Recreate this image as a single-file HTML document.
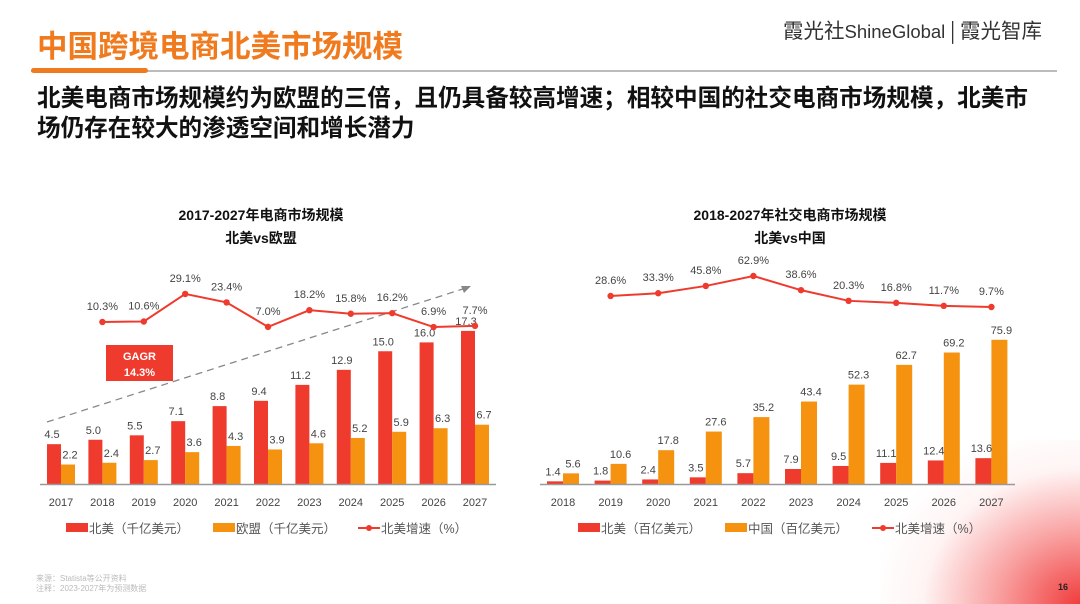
<!DOCTYPE html>
<html><head><meta charset="utf-8">
<style>
html,body{margin:0;width:1080px;height:604px;overflow:hidden}
body{background:#fff;font-family:"Liberation Sans","Noto Sans CJK SC",sans-serif;position:relative}
.abs{position:absolute}
</style></head>
<body>
<div class="abs" style="left:880px;top:440px;width:200px;height:164px;background:radial-gradient(ellipse 210px 180px at 100% 100%,rgba(240,50,50,0.95) 0%,rgba(245,100,100,0.6) 40%,rgba(255,200,200,0.2) 75%,rgba(255,255,255,0) 100%)"></div>
<div class="abs" style="left:37px;top:22px;font-size:30.5px;font-weight:bold;color:#f07a1e;font-family:'Noto Sans CJK SC',sans-serif;line-height:44px;white-space:nowrap">中国跨境电商北美市场规模</div>
<div class="abs" style="left:783px;top:15px;font-size:20.5px;color:#333;font-family:'Noto Sans CJK SC',sans-serif;line-height:28px;white-space:nowrap">霞光社<span style="font-family:'Liberation Sans';font-size:18.5px">ShineGlobal</span> | 霞光智库</div>
<div class="abs" style="left:31px;top:70px;width:1026px;height:2px;background:#bbb"></div>
<div class="abs" style="left:31px;top:68px;width:117px;height:5px;border-radius:3px;background:#f07a1e"></div>
<div class="abs" style="left:37px;top:81px;width:1030px;font-size:23.6px;font-weight:bold;color:#111;font-family:'Noto Sans CJK SC',sans-serif;line-height:30px;white-space:nowrap">北美电商市场规模约为欧盟的三倍，且仍具备较高增速；相较中国的社交电商市场规模，北美市<br>场仍存在较大的渗透空间和增长潜力</div>
<div class="abs" style="left:36px;top:574px;font-size:8px;color:#bbb;line-height:10px">来源：Statista等公开资料<br>注释：2023-2027年为预测数据</div>
<div class="abs" style="left:1058px;top:582px;font-size:9px;font-weight:bold;color:#222">16</div>

<svg class="abs" style="left:0;top:0" width="1080" height="604">
<g id="left"></g>
<g id="right"></g>
</svg>
<script>
const RED="#ee3b2e", ORANGE="#f5920f";
const leftYears=["2017","2018","2019","2020","2021","2022","2023","2024","2025","2026","2027"];
const leftNA=[4.5,5.0,5.5,7.1,8.8,9.4,11.2,12.9,15.0,16.0,17.3];
const leftEU=[2.2,2.4,2.7,3.6,4.3,3.9,4.6,5.2,5.9,6.3,6.7];
const leftGrowth=[null,10.3,10.6,29.1,23.4,7.0,18.2,15.8,16.2,6.9,7.7];
const rightYears=["2018","2019","2020","2021","2022","2023","2024","2025","2026","2027"];
const rightNA=[1.4,1.8,2.4,3.5,5.7,7.9,9.5,11.1,12.4,13.6];
const rightCN=[5.6,10.6,17.8,27.6,35.2,43.4,52.3,62.7,69.2,75.9];
const rightGrowth=[28.6,33.3,45.8,62.9,38.6,20.3,16.8,11.7,9.7];
const NS="http://www.w3.org/2000/svg";
function mk(p,tag,attrs,txt){const e=document.createElementNS(NS,tag);for(const k in attrs)e.setAttribute(k,attrs[k]);if(txt!==undefined)e.textContent=txt;p.appendChild(e);return e;}
function fmt(v){return v.toFixed(1);}
function draw(g,cfg){
  const {years,a,b,growth,x0,step,bw,base,sc,lineY,axisX1,axisX2,gOff,titles,tx,legend,lx}=cfg;
  const xc=i=>x0+i*step;
  const ya=v=>base-v*sc;
  const t0=mk(g,"text",{x:tx,y:220,"text-anchor":"middle","font-size":"14","font-weight":"bold",fill:"#111","font-family":"Liberation Sans,Noto Sans CJK SC,sans-serif"},titles[0]);
  
  const t00=mk(g,"text",{x:tx,y:243,"text-anchor":"middle","font-size":"14","font-weight":"bold",fill:"#111","font-family":"Liberation Sans,Noto Sans CJK SC,sans-serif"},titles[1]);
  
  years.forEach((y,i)=>{
    const r=mk(g,"rect",{x:xc(i)-bw,y:ya(a[i]),width:bw,height:a[i]*sc,fill:RED});
    
    
    const o=mk(g,"rect",{x:xc(i),y:ya(b[i]),width:bw,height:b[i]*sc,fill:ORANGE});
    
    
    const t1=mk(g,"text",{x:xc(i)-bw/2-2,y:ya(a[i])-6,"text-anchor":"middle","font-size":"11",fill:"#444"},fmt(a[i]));
    
    const t2=mk(g,"text",{x:xc(i)+bw/2+2,y:ya(b[i])-6,"text-anchor":"middle","font-size":"11",fill:"#444"},fmt(b[i]));
    
    const yl=mk(g,"text",{x:xc(i),y:base+22,"text-anchor":"middle","font-size":"11",fill:"#444"},y);
    
  });
  const ax=mk(g,"line",{x1:axisX1,x2:axisX2,y1:base+0.5,y2:base+0.5,stroke:"#999","stroke-width":1.5});
  
  const pts=[];
  growth.forEach((v,i)=>{if(v!==null)pts.push([xc(i+gOff),lineY(v),v]);});
  const pl=mk(g,"polyline",{points:pts.map(p=>p[0]+","+p[1]).join(" "),fill:"none",stroke:RED,"stroke-width":2});
  
  pts.forEach(p=>{
    const c=mk(g,"circle",{cx:p[0],cy:p[1],r:3.2,fill:RED});
    
    const t=mk(g,"text",{x:p[0],y:p[1]-12,"text-anchor":"middle","font-size":"11",fill:"#444"},p[2].toFixed(1)+"%");
    
  });
  const ly=528;
  legend.forEach((lab,k)=>{
    const x=lx[k];
    if(k<2){const r=mk(g,"rect",{x:x,y:ly-5,width:22,height:9,fill:k==0?RED:ORANGE});}
    else{mk(g,"line",{x1:x,x2:x+22,y1:ly,y2:ly,stroke:RED,"stroke-width":2});mk(g,"circle",{cx:x+11,cy:ly,r:3,fill:RED});}
    const t=mk(g,"text",{x:x+23,y:ly+5,"font-size":"12.5",fill:"#555","font-family":"Liberation Sans,Noto Sans CJK SC,sans-serif"},lab);
    
  });
}
const L=document.getElementById('left'), R=document.getElementById('right');
mk(L,"line",{x1:47,y1:422,x2:466,y2:288,stroke:"#888","stroke-width":1.3,"stroke-dasharray":"7,5"});
mk(L,"polygon",{points:"471,286 461,286 464,293",fill:"#888"});
draw(L,{years:leftYears,a:leftNA,b:leftEU,growth:leftGrowth.slice(1),x0:61,step:41.4,bw:14,base:484,sc:8.85,lineY:v=>337.3-1.49*v,axisX1:40,axisX2:496,gOff:1,titles:["2017-2027年电商市场规模","北美vs欧盟"],tx:261,legend:["北美（千亿美元）","欧盟（千亿美元）","北美增速（%）"],lx:[66,213,358]});
const box=mk(L,"rect",{x:106,y:345,width:67,height:36,fill:RED});

mk(L,"text",{x:139.5,y:360,"text-anchor":"middle","font-size":"11","font-weight":"bold",fill:"#fff"},"GAGR");
mk(L,"text",{x:139.5,y:376,"text-anchor":"middle","font-size":"11","font-weight":"bold",fill:"#fff"},"14.3%");
draw(R,{years:rightYears,a:rightNA,b:rightCN,growth:rightGrowth,x0:563,step:47.6,bw:16,base:484,sc:1.9,lineY:v=>312.65-0.583*v,axisX1:540,axisX2:1015,gOff:1,titles:["2018-2027年社交电商市场规模","北美vs中国"],tx:790,legend:["北美（百亿美元）","中国（百亿美元）","北美增速（%）"],lx:[578,725,872]});
</script>
</body></html>
